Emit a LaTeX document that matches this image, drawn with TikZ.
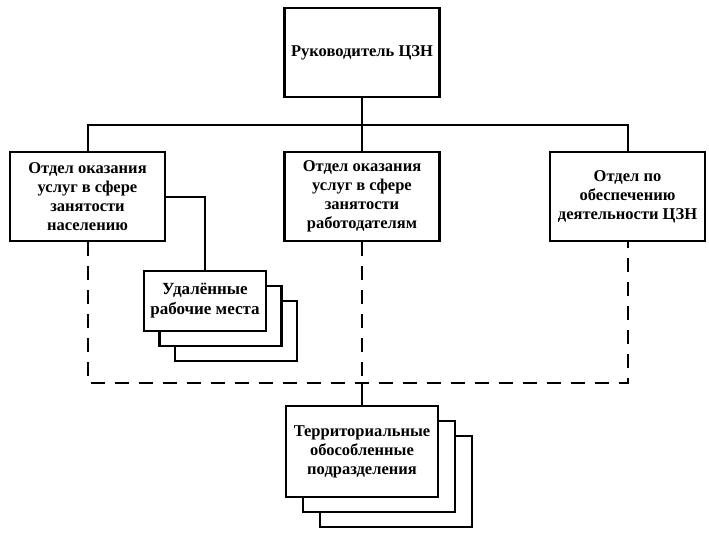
\documentclass[tikz,border=0pt]{standalone}
\usepackage{fontspec}
\setmainfont{Liberation Serif}
\usetikzlibrary{shadows}

\begin{document}
\begin{tikzpicture}[x=1pt,y=-1pt,
    unit/.style={draw, line width=2.4pt, fill=white, align=center,
        font=\bfseries\fontsize{16.5}{19}\selectfont, inner sep=2pt,
        minimum width=155pt, minimum height=89pt},
    link/.style={line width=2pt},
    dashlink/.style={line width=2pt, dash pattern=on 14pt off 10pt}]
    \useasboundingbox (0,0) rectangle (709,536);
    % management level
    \node[unit] (head) at (362,52.5) {Руководитель ЦЗН};
    \node[unit] (dept1) at (87.5,196.5) {Отдел оказания\\услуг в сфере\\занятости\\населению};
    \node[unit] (dept2) at (362,196.5) {Отдел оказания\\услуг в сфере\\занятости\\работодателям};
    \node[unit] (dept3) at (627.5,196.5) {Отдел по\\обеспечению\\деятельности ЦЗН};
    % stacked units
    \node[unit, minimum width=122pt, minimum height=60pt,
        font=\bfseries\fontsize{17}{20}\selectfont,
        double copy shadow={shadow xshift=15.5pt, shadow yshift=-15pt}]
        (remote) at (205,301) {Удалённые\\рабочие места};
    \node[unit, minimum width=152pt, minimum height=91pt,
        double copy shadow={shadow xshift=17pt, shadow yshift=-15pt}]
        (terr) at (362,451.5) {Территориальные\\обособленные\\подразделения};
    \coordinate (bus) at (362,125);
    \coordinate (loop) at (362,383);
    % connectors
    \draw[link] (head.south) -- (dept2.north);
    \draw[link] (dept1.north) |- (bus) -| (dept3.north);
    \draw[link] (dept1.east) -| (remote.north);
    \draw[dashlink] (dept1.south) |- (loop) -| (dept3.south);
    \draw[dashlink] (dept2.south) -- (loop);
    \draw[link] (loop) -- (terr.north);
\end{tikzpicture}
\end{document}
